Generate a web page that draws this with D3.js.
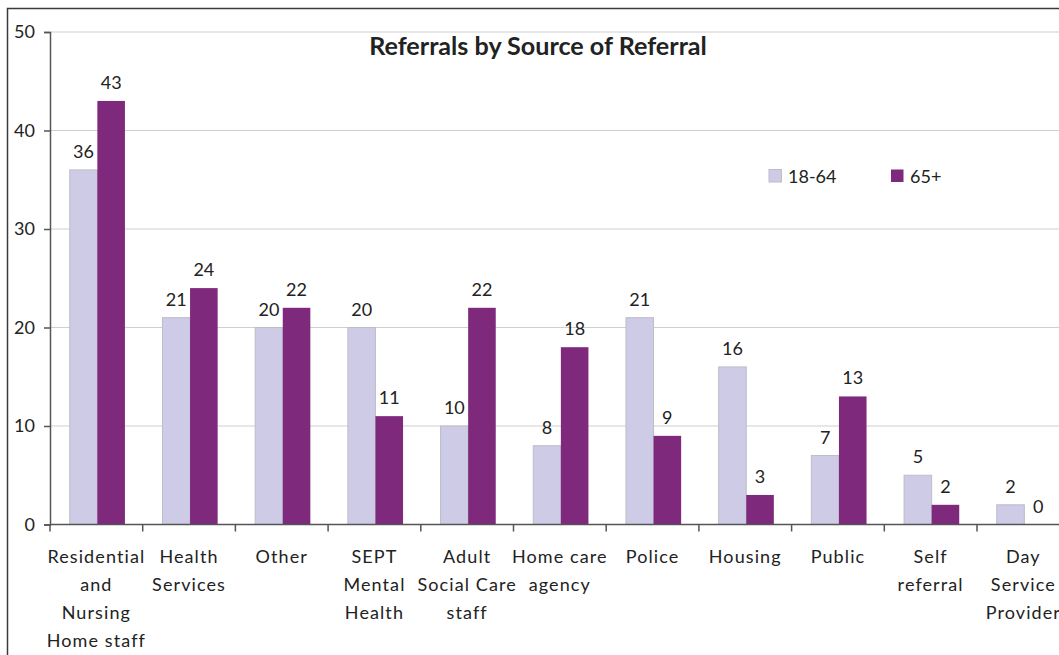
<!DOCTYPE html>
<html>
<head>
<meta charset="utf-8">
<script src="https://cdn.jsdelivr.net/npm/d3@7"></script>
<style>
  html, body { margin: 0; padding: 0; background: #fff; }
  svg { display: block; }
  text { font-family: Lato, "Open Sans", sans-serif; fill: #222; }
</style>
</head>
<body>
<svg id="chart" width="1059" height="655"></svg>
<script>
// Referral counts by source, split by age group
const categories = [
  "Residential\nand\nNursing\nHome staff",
  "Health\nServices",
  "Other",
  "SEPT\nMental\nHealth",
  "Adult\nSocial Care\nstaff",
  "Home care\nagency",
  "Police",
  "Housing",
  "Public",
  "Self\nreferral",
  "Day\nService\nProvider"
];
const seriesNames = ["18-64", "65+"];
const values1864 = [36, 21, 20, 20, 10, 8, 21, 16, 7, 5, 2];
const values65 = [43, 24, 22, 11, 22, 18, 9, 3, 13, 2, 0];
const yTicks = [0, 10, 20, 30, 40, 50];
const title = "Referrals by Source of Referral";

const colors = { "18-64": "#CDCBE6", "65+": "#7E297C" };

(function draw() {
  const svg = d3.select("#chart");

  // Plot area
  const plotLeft = 50, plotTop = 32, plotBottom = 524.5;
  const bandW = 92.7;
  const plotRight = plotLeft + categories.length * bandW;

  // Outer chart frame
  svg.append("rect")
    .attr("x", 7.5).attr("y", 8.5)
    .attr("width", 1200).attr("height", 800)
    .attr("fill", "none").attr("stroke", "#3a3a3a").attr("stroke-width", 1.5);

  const x0 = d3.scaleBand().domain(d3.range(categories.length)).range([plotLeft, plotRight]).padding(0);
  const x1 = d3.scaleBand().domain(seriesNames).range([1, x0.bandwidth() + 1]).paddingInner(0).paddingOuter(0.68);
  const y = d3.scaleLinear().domain([0, 50]).range([plotBottom, plotTop]);

  // Horizontal gridlines
  svg.append("g").selectAll("line").data(yTicks.filter(d => d > 0)).join("line")
    .attr("x1", plotLeft).attr("x2", 1100)
    .attr("y1", d => y(d)).attr("y2", d => y(d))
    .attr("stroke", "#cfcfcf").attr("stroke-width", 1.2);

  // Bars
  const rows = categories.map((c, i) => ({ i, vals: [
    { key: "18-64", v: values1864[i] },
    { key: "65+", v: values65[i] }
  ]}));

  const groups = svg.append("g").selectAll("g").data(rows).join("g")
    .attr("transform", d => `translate(${x0(d.i)},0)`);

  groups.selectAll("rect").data(d => d.vals).join("rect")
    .attr("x", d => x1(d.key))
    .attr("y", d => y(d.v))
    .attr("width", x1.bandwidth())
    .attr("height", d => y(0) - y(d.v))
    .attr("fill", d => colors[d.key])
    .attr("stroke", d => d.key === "18-64" ? "#bdbdc9" : "none")
    .attr("stroke-width", 1);

  // Value labels
  groups.selectAll("text.val").data(d => d.vals).join("text")
    .attr("class", "val")
    .attr("x", d => x1(d.key) + x1.bandwidth() / 2)
    .attr("y", d => y(d.v) - 12)
    .attr("text-anchor", "middle")
    .attr("font-size", 18)
    .text(d => d.v);

  // Y axis
  const yAxis = svg.append("g").attr("transform", `translate(${plotLeft},0)`)
    .call(d3.axisLeft(y).tickValues(yTicks).tickSize(6).tickPadding(9));
  yAxis.select(".domain").attr("stroke", "#555").attr("stroke-width", 1.5);
  yAxis.selectAll(".tick line").attr("stroke", "#555").attr("stroke-width", 1.5);
  yAxis.selectAll(".tick text").attr("font-size", 18).attr("font-family", "Lato, sans-serif").attr("fill", "#222");

  // X axis line and boundary ticks
  svg.append("line").attr("x1", plotLeft).attr("x2", 1100).attr("y1", plotBottom).attr("y2", plotBottom)
    .attr("stroke", "#555").attr("stroke-width", 1.5);
  svg.append("g").selectAll("line").data(d3.range(categories.length + 1)).join("line")
    .attr("x1", i => plotLeft + i * x0.step()).attr("x2", i => plotLeft + i * x0.step())
    .attr("y1", plotBottom).attr("y2", plotBottom + 7)
    .attr("stroke", "#555").attr("stroke-width", 1.5);

  // Category labels
  const catG = svg.append("g").selectAll("text").data(categories).join("text")
    .attr("x", (d, i) => x0(i) + x0.bandwidth() / 2)
    .attr("y", 563)
    .attr("text-anchor", "middle")
    .attr("font-size", 18)
    .attr("letter-spacing", 1.1);
  catG.selectAll("tspan").data(d => d.split("\n")).join("tspan")
    .attr("x", function() { return d3.select(this.parentNode).attr("x"); })
    .attr("dy", (d, i) => i === 0 ? 0 : 28)
    .text(d => d);

  // Title
  const t = svg.append("text")
    .attr("x", 538).attr("y", 55)
    .attr("text-anchor", "middle")
    .attr("font-size", 22).attr("font-weight", "bold")
    .text(title);
  const tw = t.node().getComputedTextLength();
  t.attr("font-size", 22 * 338 / tw);

  // Legend
  const legend = svg.append("g");
  const legendItems = [
    { key: "18-64", x: 769 },
    { key: "65+", x: 891 }
  ];
  legend.selectAll("rect").data(legendItems).join("rect")
    .attr("x", d => d.x).attr("y", 169.5)
    .attr("width", 12.5).attr("height", 12.5)
    .attr("fill", d => colors[d.key])
    .attr("stroke", d => d.key === "18-64" ? "#bdbdc9" : "none");
  legend.selectAll("text").data(legendItems).join("text")
    .attr("x", d => d.x + 19).attr("y", 183)
    .attr("font-size", 18)
    .text(d => d.key);
})();
</script>
</body>
</html>
